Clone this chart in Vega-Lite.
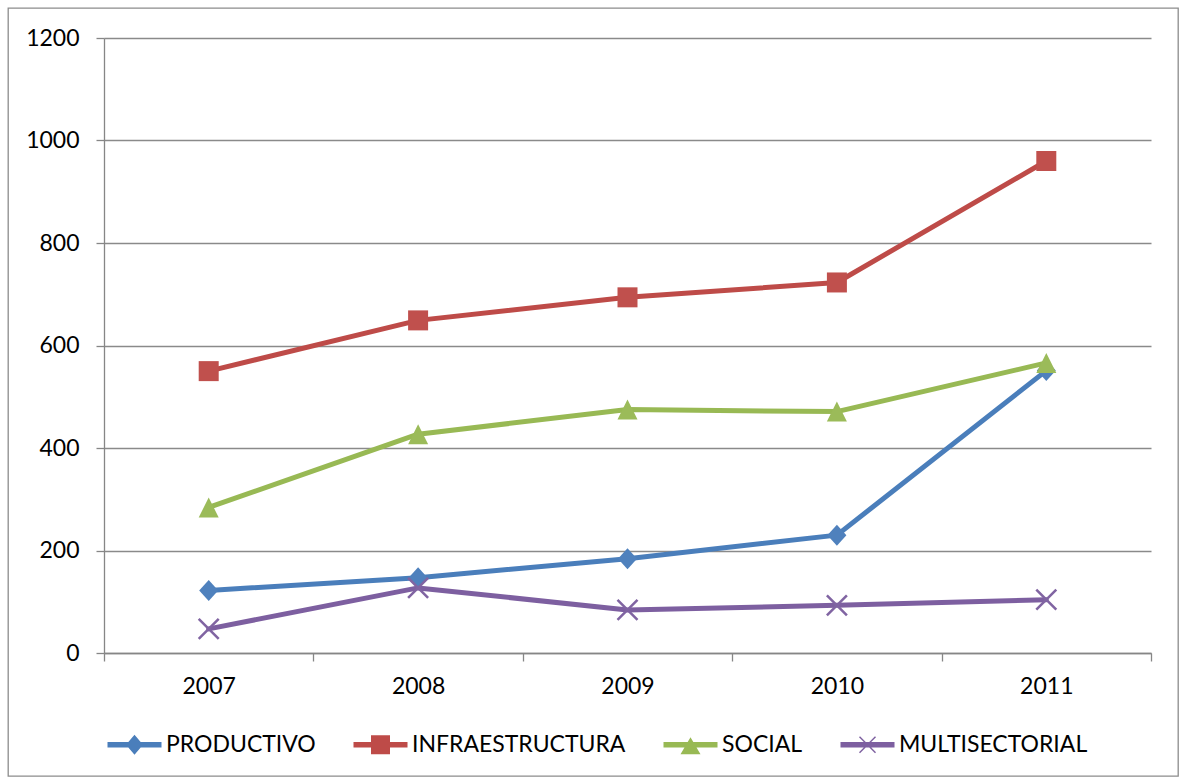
{
  "$schema": "https://vega.github.io/schema/vega-lite/v6.json",
  "width": 1170,
  "height": 768,
  "autosize": "none",
  "padding": {"left": 8, "top": 8, "right": 2, "bottom": 2},
  "background": "white",
  "config": {
    "view": {"stroke": "#8c8c8c", "strokeWidth": 1.3},
    "font": "Lato",
    "axis": {
      "labelFont": "Lato",
      "labelFontSize": 23,
      "labelColor": "#000000",
      "domainColor": "#868686",
      "tickColor": "#868686",
      "gridColor": "#8a8a8a",
      "domainWidth": 1.3,
      "tickWidth": 1.3,
      "gridWidth": 1.3,
      "tickSize": 8,
      "title": null
    }
  },
  "data": {
    "values": [
      {"year": "2007", "series": "PRODUCTIVO", "value": 122},
      {"year": "2008", "series": "PRODUCTIVO", "value": 147},
      {"year": "2009", "series": "PRODUCTIVO", "value": 184},
      {"year": "2010", "series": "PRODUCTIVO", "value": 230},
      {"year": "2011", "series": "PRODUCTIVO", "value": 551},
      {"year": "2007", "series": "INFRAESTRUCTURA", "value": 550},
      {"year": "2008", "series": "INFRAESTRUCTURA", "value": 649},
      {"year": "2009", "series": "INFRAESTRUCTURA", "value": 694},
      {"year": "2010", "series": "INFRAESTRUCTURA", "value": 723},
      {"year": "2011", "series": "INFRAESTRUCTURA", "value": 960},
      {"year": "2007", "series": "SOCIAL", "value": 284},
      {"year": "2008", "series": "SOCIAL", "value": 427},
      {"year": "2009", "series": "SOCIAL", "value": 475},
      {"year": "2010", "series": "SOCIAL", "value": 471},
      {"year": "2011", "series": "SOCIAL", "value": 566},
      {"year": "2007", "series": "MULTISECTORIAL", "value": 47},
      {"year": "2008", "series": "MULTISECTORIAL", "value": 127},
      {"year": "2009", "series": "MULTISECTORIAL", "value": 84},
      {"year": "2010", "series": "MULTISECTORIAL", "value": 93},
      {"year": "2011", "series": "MULTISECTORIAL", "value": 104}
    ]
  },
  "encoding": {
    "x": {
      "field": "year",
      "type": "ordinal",
      "scale": {"type": "band", "range": [96, 1143], "paddingInner": 0, "paddingOuter": 0},
      "axis": {"offset": -123, "tickBand": "extent", "labelAngle": 0, "labelPadding": 14, "grid": false}
    },
    "y": {
      "field": "value",
      "type": "quantitative",
      "scale": {"domain": [0, 1200], "range": [645, 30], "nice": false, "zero": true},
      "axis": {"offset": -96, "values": [0, 200, 400, 600, 800, 1000, 1200], "format": "d", "labelPadding": 17, "grid": true}
    }
  },
  "layer": [
    {
      "mark": {"type": "point", "filled": true, "size": 0, "opacity": 1},
      "encoding": {
        "color": {
          "field": "series",
          "type": "nominal",
          "scale": {
            "domain": ["PRODUCTIVO", "INFRAESTRUCTURA", "SOCIAL", "MULTISECTORIAL"],
            "range": ["#4A7EBB", "#BE4B48", "#98B954", "#7D5FA0"]
          },
          "legend": {
            "title": null,
            "orient": "none",
            "direction": "horizontal",
            "legendX": 115,
            "legendY": 725,
            "symbolSize": 400,
            "symbolStrokeWidth": 0,
            "labelOffset": 20,
            "columnPadding": 37,
            "padding": 0,
            "labelLimit": 0,
            "labelFont": "Lato",
            "labelFontSize": 23,
            "labelColor": "#000000"
          }
        },
        "shape": {
          "field": "series",
          "type": "nominal",
          "scale": {
            "domain": ["PRODUCTIVO", "INFRAESTRUCTURA", "SOCIAL", "MULTISECTORIAL"],
            "range": [
              "M-2.7,-0.27H2.7V0.27H-2.7Z M0,-1L0.85,0L0,1L-0.85,0Z",
              "M-2.7,-0.27H2.7V0.27H-2.7Z M-0.95,-0.95H0.95V0.95H-0.95Z",
              "M-2.7,-0.27H2.7V0.27H-2.7Z M0,-0.75L1,0.95H-1Z",
              "M-2.7,-0.27H2.7V0.27H-2.7Z M-0.75,-0.85L0.85,0.75L0.75,0.85L-0.85,-0.75Z M-0.75,0.85L-0.85,0.75L0.75,-0.85L0.85,-0.75Z"
            ]
          },
          "legend": {
            "title": null,
            "orient": "none",
            "direction": "horizontal",
            "legendX": 115,
            "legendY": 725,
            "symbolSize": 400,
            "symbolStrokeWidth": 0,
            "labelOffset": 20,
            "columnPadding": 37,
            "padding": 0,
            "labelLimit": 0,
            "labelFont": "Lato",
            "labelFontSize": 23,
            "labelColor": "#000000"
          }
        }
      }
    },
    {
      "mark": {"type": "line", "strokeWidth": 5, "strokeJoin": "round", "strokeCap": "round"},
      "encoding": {
        "color": {"field": "series", "type": "nominal", "legend": null}
      }
    },
    {
      "transform": [{"filter": "datum.series === 'PRODUCTIVO'"}],
      "mark": {"type": "point", "filled": true, "size": 400, "opacity": 1, "shape": "M0,-1.05L0.95,0L0,1.05L-0.95,0Z", "color": "#4F81BD"},
      "encoding": {}
    },
    {
      "transform": [{"filter": "datum.series === 'INFRAESTRUCTURA'"}],
      "mark": {"type": "point", "filled": true, "size": 400, "opacity": 1, "shape": "M-1,-1H1V1H-1Z", "color": "#C0504D"},
      "encoding": {}
    },
    {
      "transform": [{"filter": "datum.series === 'SOCIAL'"}],
      "mark": {"type": "point", "filled": true, "size": 400, "opacity": 1, "shape": "M0,-1L1,1H-1Z", "color": "#9BBB59"},
      "encoding": {}
    },
    {
      "transform": [{"filter": "datum.series === 'MULTISECTORIAL'"}],
      "mark": {"type": "point", "filled": true, "size": 400, "opacity": 1, "shape": "M-0.91,-1.09L1.09,0.91L0.91,1.09L-1.09,-0.91Z M-0.91,1.09L-1.09,0.91L0.91,-1.09L1.09,-0.91Z", "color": "#8064A2"},
      "encoding": {}
    }
  ]
}
